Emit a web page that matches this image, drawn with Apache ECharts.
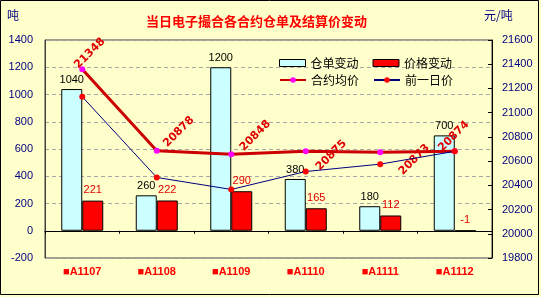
<!DOCTYPE html>
<html>
<head>
<meta charset="utf-8">
<script src="https://cdn.jsdelivr.net/npm/echarts@6/dist/echarts.min.js"></script>
<style>
html,body{margin:0;padding:0;background:#FFFFCC;}
#c{width:541px;height:297px;}
</style>
</head>
<body>
<div id="c"></div>
<script>
// ---- data ----
const categories = ['■A1107', '■A1108', '■A1109', '■A1110', '■A1111', '■A1112'];
const warrantChange = [1040, 260, 1200, 380, 180, 700];      // 仓单变动 (吨)
const priceChange = [221, 222, 290, 165, 112, -1];           // 价格变动
const avgPrice = [21358, 20685, 20657, 20681, 20674, 20681]; // 合约均价 (as plotted)
const avgPriceLabels = ['21348', '20878', '20848', '20875', '20873', '20874'];
const prevPrice = [21131, 20465, 20366, 20514, 20575, 20681]; // 前一日价 (as plotted)
const leftTicks = {min: -200, max: 1400, interval: 200};
const rightTicks = {min: 19800, max: 21600, interval: 200};

// label screen shifts of the rotated average-price labels (style)
const avgLabelShift = [[7.5, -16], [22, -19], [24, -18.5], [25.5, 4], [34, 7.5], [-1, -15]];
const SYM = 6;

const chart = echarts.init(document.getElementById('c'), null, {renderer: 'canvas'});
const axisFont = {color: '#000080', fontSize: 11, fontFamily: 'Liberation Sans', formatter: v => String(v)};

const option = {
  backgroundColor: '#FFFFCC',
  animation: false,
  title: {
    text: '当日电子撮合各合约仓单及结算价变动',
    left: 146, top: 15, padding: 0,
    textStyle: {color: '#FF0000', fontSize: 13, fontWeight: 'bold', fontFamily: 'Noto Sans CJK SC'}
  },
  graphic: [
    {type: 'rect', shape: {x: 0.5, y: 0.5, width: 538, height: 294}, style: {fill: 'none', stroke: '#000', lineWidth: 1}, z: 100},
    {type: 'text', left: 7, top: 9, style: {text: '吨', fill: '#000080', font: '12px "Noto Sans CJK SC"'}},
    {type: 'text', left: 484, top: 9, style: {text: '元/吨', fill: '#000080', font: '12px "Noto Sans CJK SC"'}}
  ],
  legend: [
    {data: [{name: '仓单变动', icon: 'rect'}, {name: '价格变动', icon: 'rect'}], left: 279, top: 57, padding: 0,
     itemWidth: 26, itemHeight: 7, itemGap: 14, itemStyle: {borderWidth: 1, borderColor: '#000'},
     textStyle: {color: '#000', fontSize: 12, fontFamily: 'Noto Sans CJK SC'}},
    {data: ['合约均价', '前一日价'], left: 279, top: 74, padding: 0, itemWidth: 26, itemHeight: 7, itemGap: 14,
     textStyle: {color: '#000', fontSize: 12, fontFamily: 'Noto Sans CJK SC'}}
  ],
  grid: {left: 45, right: 49, top: 40, bottom: 39, outerBoundsMode: 'none', containLabel: false,
         show: true, borderColor: '#404040', borderWidth: 1, backgroundColor: 'transparent'},
  xAxis: {
    type: 'category', data: categories,
    axisLine: {onZero: true, lineStyle: {color: '#000', width: 1}},
    axisTick: {show: true, length: 3, lineStyle: {color: '#000'}},
    axisLabel: {margin: 8, color: '#FF0000', fontSize: 11, fontWeight: 'bold', fontFamily: 'Liberation Sans'},
    splitLine: {show: false}
  },
  yAxis: [
    {type: 'value', min: leftTicks.min, max: leftTicks.max, interval: leftTicks.interval, position: 'left',
     axisLine: {show: true, lineStyle: {color: '#404040'}}, axisTick: {show: false},
     axisLabel: Object.assign({margin: 12}, axisFont),
     splitLine: {show: true, lineStyle: {color: '#A8A8A8', type: [4, 3], width: 1}}},
    {type: 'value', min: rightTicks.min, max: rightTicks.max, interval: rightTicks.interval, position: 'right',
     axisLine: {show: true, lineStyle: {color: '#000'}},
     axisTick: {show: true, inside: true, length: 4, lineStyle: {color: '#000'}},
     axisLabel: Object.assign({margin: 10}, axisFont),
     splitLine: {show: false}}
  ],
  series: [
    {name: '仓单变动', type: 'bar', yAxisIndex: 0, data: warrantChange, barWidth: 21, barGap: '0%',
     itemStyle: {color: '#CCFFFF', borderColor: '#000', borderWidth: 1},
     label: {show: true, position: 'top', distance: 4, color: '#000', fontSize: 11, fontFamily: 'Liberation Sans'}},
    {name: '价格变动', type: 'bar', yAxisIndex: 0, data: priceChange, barWidth: 21,
     itemStyle: {color: '#FF0000', borderColor: '#000', borderWidth: 1},
     label: {show: true, position: 'top', distance: 5, color: '#E00000', fontSize: 11, fontFamily: 'Liberation Sans'}},
    {name: '合约均价', type: 'line', yAxisIndex: 1, z: 5,
     data: avgPrice.map((v, i) => {
       const D = avgLabelShift[i];
       return {value: v, label: {position: [D[0] + SYM / 2, D[1] + SYM / 2]}};
     }),
     symbol: 'circle', symbolSize: SYM,
     lineStyle: {color: '#CC0000', width: 3},
     itemStyle: {color: '#FF00FF'},
     label: {show: true, rotate: 45, align: 'center', verticalAlign: 'middle',
       color: '#E00000', fontSize: 11, fontWeight: 'bold', fontFamily: 'DejaVu Sans',
       formatter: p => avgPriceLabels[p.dataIndex]}},
    {name: '前一日价', type: 'line', yAxisIndex: 1, z: 6, data: prevPrice,
     symbol: 'circle', symbolSize: SYM,
     lineStyle: {color: '#000080', width: 1},
     itemStyle: {color: '#FF0000'}}
  ]
};
chart.setOption(option);
</script>
</body>
</html>
